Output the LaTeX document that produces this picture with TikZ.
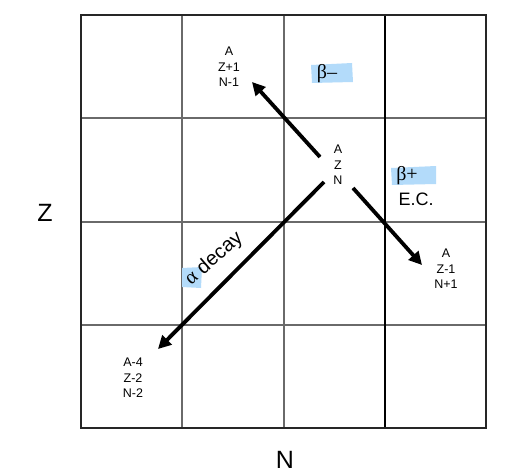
\documentclass[tikz,border=0pt]{standalone}
\usepackage{fontspec}
\setmainfont{Liberation Sans}
\newfontfamily\greekfont{Liberation Serif}
\usetikzlibrary{arrows.meta}
\definecolor{hl}{HTML}{B3DBFA}
\definecolor{gridgray}{HTML}{6A6A6A}
\begin{document}
\begin{tikzpicture}[x=1pt,y=-1pt,
  small/.style={font=\fontsize{12.5}{15.5}\selectfont,align=center,inner sep=0pt},
  big/.style={font=\fontsize{18}{20}\selectfont,inner sep=0pt},
  axis/.style={font=\fontsize{25}{28}\selectfont,inner sep=0pt},
  decay/.style={line width=3.8pt,-{Triangle[length=13pt,width=13pt]}},
  hlbox/.style={fill=hl,draw=none}]
\useasboundingbox (0,0) rectangle (514,476);
% grid
\draw[gridgray,line width=1.3pt] (182,15) -- (182,428) (284,15) -- (284,428)
  (81,118) -- (486,118) (81,222) -- (486,222) (81,325) -- (486,325);
\draw[black,line width=2pt] (385,15) -- (385,428);
\draw[black!85,line width=1.5pt] (81,15) rectangle (486,428);
% highlights
\fill[hl] (311,65) -- (352,63) -- (353,82) -- (312,83) -- cycle;
\fill[hl] (391,168) -- (436,166) -- (436,184) -- (392,185) -- cycle;
\fill[hl] (182,268) -- (202,267) -- (201,288) -- (182,287) -- cycle;
% labels
\node[small] (p1) at (229,67) {A\\Z+1\\N-1};
\node[small] (c) at (338,165) {A\\Z\\N};
\node[small] (d1) at (446,269) {A\\Z-1\\N+1};
\node[small] (a1) at (133,378) {A-4\\Z-2\\N-2};
\node[big] (bm) at (327,74) {\greekfont\fontsize{20}{20}\selectfont β–};
\node[big] (bp) at (407,176) {\greekfont\fontsize{20}{20}\selectfont β+};
\node[big] (ec) at (416,199) {E.C.};
\node[font=\fontsize{20}{22}\selectfont,inner sep=0pt,rotate=41] (ad) at (214,259) {{\greekfont α} decay};
\node[axis] (zl) at (45,212.5) {Z};
\node[axis] (nl) at (285,460) {N};
% arrows
\coordinate (bmS) at (320,157);
\coordinate (bmE) at (252,82);
\coordinate (bpS) at (353,188);
\coordinate (bpE) at (422,265);
\coordinate (adS) at (324,182);
\coordinate (adE) at (158,349);
\draw[decay] (bmS) -- (bmE);
\draw[decay] (bpS) -- (bpE);
\draw[decay] (adS) -- (adE);
\end{tikzpicture}
\end{document}
